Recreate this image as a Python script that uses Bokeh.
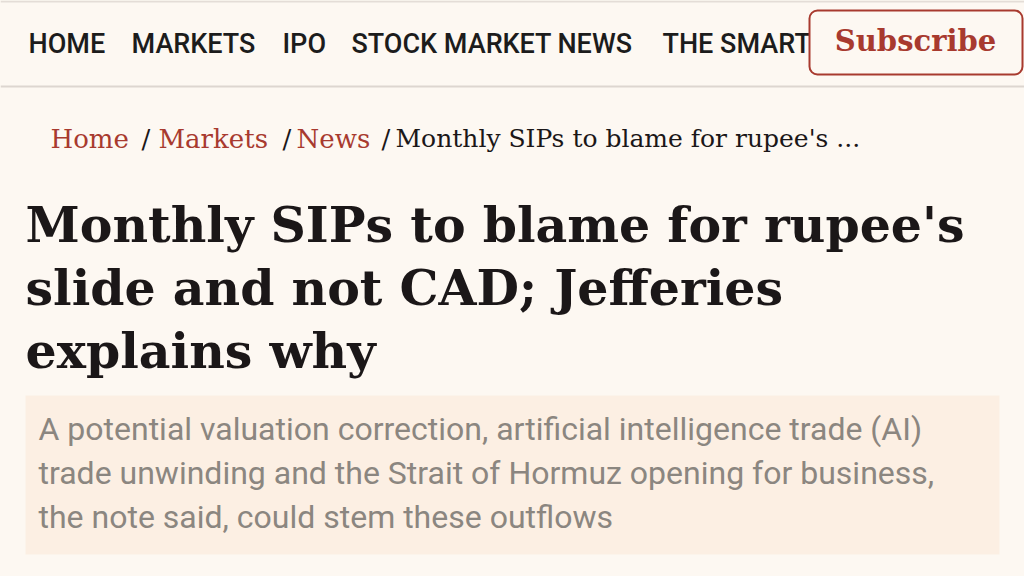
from bokeh.plotting import figure
from bokeh.models import ColumnDataSource, Range1d, BoxAnnotation, Label, Span
from bokeh.core.properties import value
from bokeh.embed import file_html
from bokeh.resources import INLINE

# ---- content ----
nav_items = ["HOME", "MARKETS", "IPO", "STOCK MARKET NEWS", "THE SMART"]
button_label = "Subscribe"
crumb_links = ["Home", "Markets", "News"]
crumb_current = "Monthly SIPs to blame for rupee's ..."
headline_lines = ["Monthly SIPs to blame for rupee's",
                  "slide and not CAD; Jefferies",
                  "explains why"]
summary_lines = ["A potential valuation correction, artificial intelligence trade (AI)",
                 "trade unwinding and the Strait of Hormuz opening for business,",
                 "the note said, could stem these outflows"]

# ---- layout (page pixels) ----
nav_x = [28, 131, 282, 351, 662]
nav_y = 43
crumb_link_x = [50, 158, 296]
crumb_sep_x = [141, 282, 381]
crumb_cur_x = 395
crumb_y = 138
head_x, head_y0, head_step = 25, 224, 63
sum_x, sum_y0, sum_step = 38, 428, 44

BG = "#fdf8f2"
RED = "#a83a2f"
INK = "#1b1718"
W, H = 1024, 576

p = figure(width=W, height=H, x_range=Range1d(0, W), y_range=Range1d(H, 0),
           output_backend="svg", toolbar_location=None, min_border=0)
p.axis.visible = False
p.grid.visible = False
p.outline_line_color = None
p.background_fill_color = BG
p.border_fill_color = BG

# dividers
p.add_layout(Span(location=1, dimension="width", line_color="#e4ddd7", line_width=2))
p.add_layout(Span(location=86, dimension="width", line_color="#ddd6d0", line_width=2))

# summary box
p.quad(left=[25], right=[999], top=[395], bottom=[554], fill_color="#fcefe3", line_color=None)

# nav
nav_src = ColumnDataSource(dict(x=nav_x, y=[nav_y] * len(nav_items), t=nav_items))
p.text(x="x", y="y", text="t", source=nav_src, text_font=value("Roboto Medium"),
       text_font_size="27px", text_color="#1c1c1c", text_baseline="alphabetic")

# breadcrumb
cl_src = ColumnDataSource(dict(x=crumb_link_x, y=[crumb_y] * 3, t=crumb_links))
p.text(x="x", y="y", text="t", source=cl_src, text_font=value("DejaVu Serif"),
       text_font_size="26px", text_color=RED, text_baseline="alphabetic")
cs_src = ColumnDataSource(dict(x=crumb_sep_x, y=[crumb_y] * 3, t=["/"] * 3))
p.text(x="x", y="y", text="t", source=cs_src, text_font=value("DejaVu Serif"),
       text_font_size="26px", text_color=INK, text_baseline="alphabetic")
p.text(x=[crumb_cur_x], y=[crumb_y], text=[crumb_current], text_font=value("DejaVu Serif"),
       text_font_size="25px", text_color=INK, text_baseline="alphabetic")

# headline
h_src = ColumnDataSource(dict(x=[head_x] * 3,
                              y=[head_y0 + i * head_step for i in range(3)],
                              t=headline_lines))
p.text(x="x", y="y", text="t", source=h_src, text_font=value("DejaVu Serif"),
       text_font_size="49px", text_font_style="bold", text_color=INK,
       text_baseline="alphabetic")

# summary
s_src = ColumnDataSource(dict(x=[sum_x] * 3,
                              y=[sum_y0 + i * sum_step for i in range(3)],
                              t=summary_lines))
p.text(x="x", y="y", text="t", source=s_src, text_font=value("Roboto"),
       text_font_size="32px", text_color="#8b8680", text_baseline="alphabetic")

# subscribe button
p.add_layout(BoxAnnotation(left=809, right=1022, top=10, bottom=74, fill_color=BG,
                           fill_alpha=1, line_color=RED, line_alpha=1, line_width=2,
                           border_radius=8))
p.add_layout(Label(x=915, y=40, text=button_label, text_font="DejaVu Serif",
                   text_font_size="29px", text_font_style="bold", text_color=RED,
                   text_align="center", text_baseline="middle"))

html = file_html(p, INLINE)
html = html.replace("<head>", "<head><style>html,body{background:%s;}</style>" % BG, 1)
open("out.html", "w").write(html)
